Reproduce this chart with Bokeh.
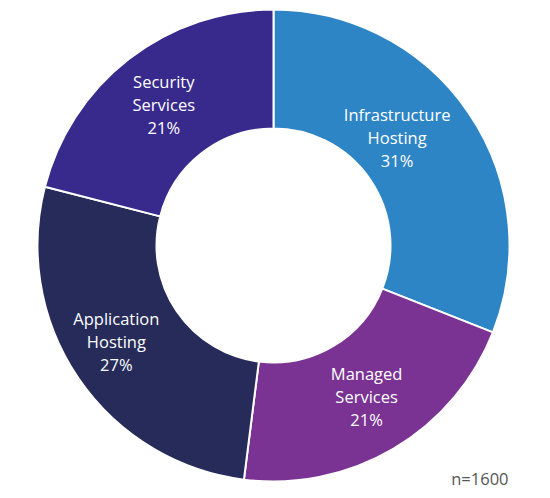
import math
from bokeh.plotting import figure
from bokeh.models import Range1d, ColumnDataSource
from bokeh.core.properties import value
from bokeh.embed import file_html
from bokeh.resources import INLINE

categories = ["Infrastructure\nHosting", "Managed\nServices", "Application\nHosting", "Security\nServices"]
shares = [31, 21, 27, 21]
colors = ["#2E85C6", "#7A3393", "#262B5A", "#382A8D"]
sample_note = "n=1600"

W, H = 550, 498
p = figure(width=W, height=H, output_backend="svg", toolbar_location=None,
           x_range=Range1d(0, W), y_range=Range1d(0, H), min_border=0)
p.axis.visible = False
p.grid.visible = False
p.outline_line_color = None
p.background_fill_color = "white"

cx, cy = 273, H - 245
R_out, R_in = 236, 117

total = sum(shares)
starts, ends, mids = [], [], []
cum = 0.0
for s in shares:
    a0 = cum / total * 2 * math.pi
    cum += s
    a1 = cum / total * 2 * math.pi
    starts.append(math.pi / 2 - a0)
    ends.append(math.pi / 2 - a1)
    mids.append((a0 + a1) / 2)

src = ColumnDataSource(dict(start=starts, end=ends, color=colors))
p.annular_wedge(x=cx, y=cy, inner_radius=R_in, outer_radius=R_out,
                start_angle="start", end_angle="end", direction="clock",
                fill_color="color", line_color="white", line_width=2, source=src)

label_r = [164, 177, 184, 179]
label_shift = [-0.12, -0.02, 0.05, 0.0]
lx, ly, labels = [], [], []
for i, (c, s) in enumerate(zip(categories, shares)):
    a = mids[i] + label_shift[i]
    lx.append(cx + label_r[i] * math.sin(a))
    ly.append(cy + label_r[i] * math.cos(a))
    labels.append(f"{c}\n{s}%")

p.text(x=lx, y=ly, text=labels, text_align="center", text_baseline="middle",
       text_color="white", text_font=value("Open Sans"), text_font_size="16.5px",
       text_line_height=1.0)

p.text(x=[508], y=[H - 478], text=[sample_note], text_align="right",
       text_baseline="middle", text_color="#555555", text_font=value("Open Sans"),
       text_font_size="16.5px")

open("out.html", "w").write(file_html(p, INLINE))
